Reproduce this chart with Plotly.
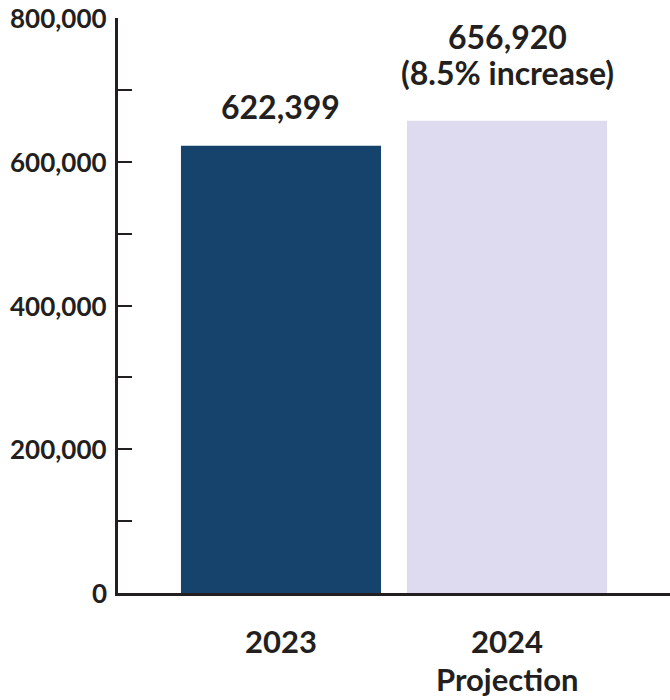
import plotly.graph_objects as go

categories = ["2023", "2024"]
cat_labels = [["2023"], ["2024", "Projection"]]
values = [622399, 656920]
value_labels = [["622,399"], ["656,920", "(8.5% increase)"]]
bar_colors = ["#16436b", "#dedbf0"]
y_tickvals = [0, 100000, 200000, 300000, 400000, 500000, 600000, 700000, 800000]
y_ticktext = ["0", "", "200,000", "", "400,000", "", "600,000", "", "800,000"]

TXT = "#231f20"
FONT = "Lato"

fig = go.Figure()
fig.add_trace(go.Bar(
    x=[0, 1], y=values, width=0.885,
    marker=dict(color=bar_colors, line=dict(width=0)),
    hoverinfo="skip",
))

annotations = []
for i, (v, lines) in enumerate(zip(values, value_labels)):
    n = len(lines)
    for j, t in enumerate(lines):
        annotations.append(dict(
            x=i, y=v, xref="x", yref="y", text="<b>%s</b>" % t, showarrow=False,
            yanchor="middle", xanchor="center",
            yshift=39 + (n - 1) * 9 + (n - 1 - j) * 36,
            font=dict(family=FONT, size=32, color=TXT),
        ))
for i, lines in enumerate(cat_labels):
    for j, t in enumerate(lines):
        annotations.append(dict(
            x=i, y=0, xref="x", yref="y", text="<b>%s</b>" % t, showarrow=False,
            yanchor="middle", xanchor="center",
            yshift=-48 - j * 38,
            font=dict(family=FONT, size=31, color=TXT),
        ))
for v, t in zip(y_tickvals, y_ticktext):
    if t:
        annotations.append(dict(
            x=0, y=v, xref="paper", yref="y", text="<b>%s</b>" % t, showarrow=False,
            xanchor="right", yanchor="middle", xshift=-9,
            font=dict(family=FONT, size=26, color=TXT),
        ))

fig.update_layout(
    width=670, height=700,
    margin=dict(l=118, r=0, t=18, b=107),
    paper_bgcolor="white", plot_bgcolor="white",
    showlegend=False,
    annotations=annotations,
    xaxis=dict(
        range=[-0.721, 1.721], showticklabels=False, ticks="",
        showgrid=False, zeroline=False,
        showline=True, linecolor=TXT, linewidth=2.5,
    ),
    yaxis=dict(
        range=[0, 800000], tickvals=y_tickvals, showticklabels=False,
        ticks="inside", ticklen=14, tickwidth=2, tickcolor=TXT,
        showgrid=False, zeroline=False,
        showline=True, linecolor=TXT, linewidth=2.5,
    ),
)

fig.write_html("out.html", config={"displayModeBar": False},
               post_script="document.body.style.margin='0';")
